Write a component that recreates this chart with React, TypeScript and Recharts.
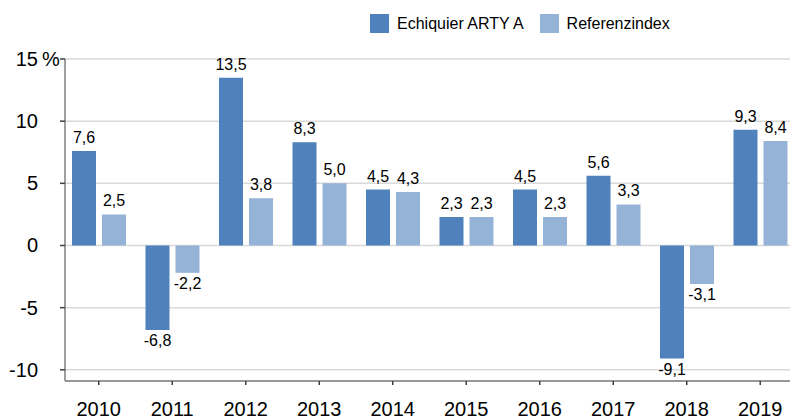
import { Bar, BarChart, CartesianGrid, LabelList, Legend, XAxis, YAxis } from 'recharts';

const years = ['2010', '2011', '2012', '2013', '2014', '2015', '2016', '2017', '2018', '2019'];
const fundValues = [7.6, -6.8, 13.5, 8.3, 4.5, 2.3, 4.5, 5.6, -9.1, 9.3];
const indexValues = [2.5, -2.2, 3.8, 5.0, 4.3, 2.3, 2.3, 3.3, -3.1, 8.4];
const yTicks = [-10, -5, 0, 5, 10, 15];

const FUND_NAME = 'Echiquier ARTY A';
const INDEX_NAME = 'Referenzindex';
const DARK = '#4f81bd';
const LIGHT = '#95b3d7';
const FONT = "'Liberation Sans', Arial, sans-serif";

const data = years.map((year, i) => ({
  year,
  fund: fundValues[i],
  index: indexValues[i],
}));

const fmt = (v: number) => v.toFixed(1).replace('.', ',');

const BarLabel = (props: any) => {
  const { x, y, width, height, value } = props;
  const top = Math.min(y, y + height);
  const bottom = Math.max(y, y + height);
  const cx = x + width / 2;
  const ty = value >= 0 ? top - 8 : bottom + 16;
  return (
    <text x={cx} y={ty} textAnchor='middle' fontSize={16} fill='#000' fontFamily={FONT}>
      {fmt(value)}
    </text>
  );
};

const YTick = (props: any) => {
  const { x, y, payload } = props;
  return (
    <g>
      <text x={x} y={y} dy='0.35em' textAnchor='end' fontSize={20} fill='#000' fontFamily={FONT}>
        {payload.value}
      </text>
      {payload.value === 15 && (
        <text x={x + 4} y={y} dy='0.35em' textAnchor='start' fontSize={20} fill='#000' fontFamily={FONT}>
          %
        </text>
      )}
    </g>
  );
};

const LegendContent = () => (
  <div style={{ display: 'flex', alignItems: 'center', fontFamily: FONT, fontSize: 16, color: '#000' }}>
    <span style={{ width: 19, height: 19, background: DARK, display: 'inline-block', marginRight: 8 }} />
    <span style={{ marginRight: 16 }}>{FUND_NAME}</span>
    <span style={{ width: 19, height: 19, background: LIGHT, display: 'inline-block', marginRight: 8 }} />
    <span>{INDEX_NAME}</span>
  </div>
);

export default function App() {
  return (
    <div style={{ position: 'absolute', left: 0, top: 0, width: 790, height: 419, overflow: 'hidden', background: '#fff' }}>
      <BarChart
        width={801}
        height={419}
        data={data}
        margin={{ top: 59, right: 1, bottom: 0, left: 0 }}
        barGap={6}
        barSize={24}
        style={{ fontFamily: FONT }}
      >
        <CartesianGrid vertical={false} stroke='#d9d9d9' strokeWidth={1.5} />
        <XAxis
          dataKey='year'
          height={38}
          padding={{ left: -3, right: 3 }}
          tickSize={4}
          tickMargin={17}
          tick={{ fontSize: 20, fill: '#000' }}
          axisLine={{ stroke: '#7f7f7f', strokeWidth: 1.5 }}
          tickLine={{ stroke: '#404040', strokeWidth: 1.5 }}
          interval={0}
        />
        <YAxis
          width={65}
          domain={[-10.9, 15]}
          ticks={yTicks}
          allowDataOverflow
          tickSize={5}
          tickMargin={22}
          tick={<YTick />}
          axisLine={{ stroke: '#7f7f7f', strokeWidth: 1.5 }}
          tickLine={{ stroke: '#404040', strokeWidth: 1.5 }}
        />
        <Legend
          verticalAlign='middle'
          layout='horizontal'
          content={<LegendContent />}
          wrapperStyle={{ top: 14, left: 370, width: 'auto' }}
        />
        <Bar dataKey='fund' name={FUND_NAME} fill={DARK} isAnimationActive={false}>
          <LabelList dataKey='fund' content={<BarLabel />} />
        </Bar>
        <Bar dataKey='index' name={INDEX_NAME} fill={LIGHT} isAnimationActive={false}>
          <LabelList dataKey='index' content={<BarLabel />} />
        </Bar>
      </BarChart>
    </div>
  );
}
